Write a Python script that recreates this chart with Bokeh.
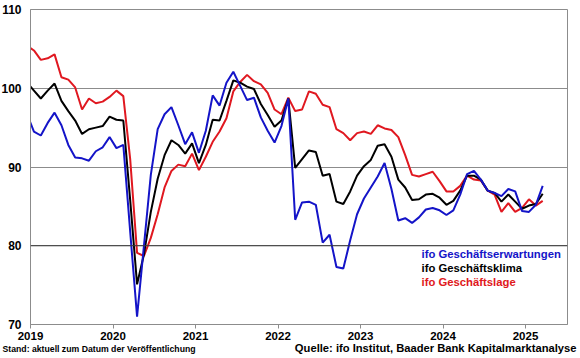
from bokeh.plotting import figure
from bokeh.models import FixedTicker, Label, Span, ColumnDataSource, Range1d
from bokeh.embed import file_html
from bokeh.resources import INLINE

# monthly observations (Dec 2018 .. Mar 2025)
months = ["2018-12"] + [f"{y}-{m:02d}" for y in range(2019, 2025) for m in range(1, 13)] + ["2025-01", "2025-02", "2025-03"]

erwartungen = [96.7,
    94.5, 94.0, 95.6, 96.9, 95.3, 92.8, 91.2, 91.1, 90.8, 92.0, 92.5, 93.8,
    92.4, 92.8, 81.8, 71.0, 80.0, 89.0, 94.8, 96.7, 97.6, 95.3, 92.9, 94.4,
    91.8, 94.6, 99.1, 97.8, 100.7, 102.1, 100.3, 98.5, 98.8, 96.3, 94.6, 93.1,
    95.2, 98.7, 83.3, 85.5, 85.6, 85.2, 80.4, 81.4, 77.3, 77.1, 80.7, 84.0,
    86.0, 87.4, 88.8, 90.5, 87.2, 83.2, 83.5, 82.9, 83.6, 84.6, 84.8, 84.5,
    83.9, 84.5, 86.5, 89.1, 89.5, 88.4, 87.0, 86.7, 86.3, 87.2, 86.9, 84.4,
    84.3, 85.2, 87.6]

klima = [100.7,
    99.7, 98.7, 99.7, 100.6, 98.4, 97.1, 95.9, 94.2, 94.8, 95.0, 95.2, 96.4,
    96.0, 95.9, 85.8, 75.1, 78.9, 84.3, 88.5, 91.5, 93.4, 92.8, 91.7, 93.0,
    90.5, 92.8, 96.0, 95.9, 98.4, 101.0, 100.7, 100.2, 99.9, 98.0, 96.6, 95.1,
    95.9, 98.7, 89.9, 91.0, 92.1, 91.9, 88.9, 89.1, 85.6, 85.3, 86.9, 88.9,
    90.1, 90.9, 92.7, 92.9, 91.3, 88.4, 87.4, 85.8, 85.9, 86.5, 86.6, 86.1,
    85.2, 85.7, 87.0, 88.9, 88.9, 88.4, 87.0, 86.7, 85.6, 86.5, 85.6, 84.7,
    85.1, 85.3, 86.6]

lage = [105.4,
    104.8, 103.6, 103.8, 104.3, 101.4, 101.1, 100.1, 97.3, 98.7, 98.1, 98.3, 98.9,
    99.7, 99.0, 91.0, 79.1, 78.7, 81.0, 84.0, 87.4, 89.5, 90.3, 90.1, 91.7,
    89.6, 91.3, 93.2, 94.5, 96.2, 99.6, 100.8, 101.7, 100.9, 100.5, 99.4, 97.3,
    96.7, 98.8, 97.1, 97.3, 99.6, 99.3, 97.9, 97.6, 94.8, 94.3, 93.4, 94.3,
    94.5, 94.2, 95.3, 94.9, 94.7, 93.8, 91.5, 89.0, 88.8, 89.1, 89.4, 88.2,
    86.9, 86.9, 87.6, 88.9, 88.4, 88.3, 87.0, 86.5, 84.3, 85.4, 84.3, 84.8,
    85.9, 85.1, 85.7]

year_ticks = [2019, 2020, 2021, 2022, 2023, 2024, 2025]
value_ticks = [70, 80, 90, 100, 110]
series_names = ["ifo Geschäftserwartungen", "ifo Geschäftsklima", "ifo Geschäftslage"]
footer_left = "Stand: aktuell zum Datum der Veröffentlichung"
footer_right = "Quelle: ifo Institut, Baader Bank Kapitalmarktanalyse"

BLUE = "#1414c8"
BLACK = "#000000"
RED = "#e01820"
GRID = "#8c8c8c"
FONT = "Liberation Sans"

x = [int(s[:4]) + (int(s[5:]) - 0.5) / 12 for s in months]
src = ColumnDataSource(dict(x=x, erw=erwartungen, klima=klima, lage=lage))

p = figure(width=590, height=354, frame_width=537, frame_height=315,
           x_range=Range1d(2019, 2025.509), y_range=Range1d(70, 110),
           output_backend="svg", toolbar_location=None,
           min_border_left=40, min_border_right=13, min_border_top=9, min_border_bottom=30)
p.styles = {"margin-left": "-10px"}
p.background_fill_color = "white"
p.border_fill_color = "white"
p.outline_line_color = GRID
p.outline_line_width = 1

p.xgrid.visible = False
p.ygrid.ticker = FixedTicker(ticks=value_ticks)
p.ygrid.grid_line_color = GRID
p.ygrid.grid_line_width = 1.2

p.add_layout(Span(location=value_ticks[1], dimension="width", line_color="#3a3a3a", line_width=1.2))

p.yaxis.ticker = FixedTicker(ticks=value_ticks)
p.yaxis.axis_line_color = GRID
p.yaxis.major_tick_out = 0
p.yaxis.major_tick_in = 0
p.yaxis.minor_tick_line_color = None
p.yaxis.major_label_standoff = 9
p.yaxis.major_label_text_font = FONT
p.yaxis.major_label_text_font_style = "bold"
p.yaxis.major_label_text_font_size = "12px"
p.yaxis.major_label_text_color = "#000000"

p.xaxis.ticker = FixedTicker(ticks=year_ticks)
p.xaxis.axis_line_color = GRID
p.xaxis.major_tick_line_color = GRID
p.xaxis.major_tick_out = 4
p.xaxis.major_tick_in = 0
p.xaxis.minor_tick_line_color = None
p.xaxis.major_label_standoff = 3
p.xaxis.major_label_text_font = FONT
p.xaxis.major_label_text_font_style = "bold"
p.xaxis.major_label_text_font_size = "11.5px"
p.xaxis.major_label_text_color = "#000000"

p.line("x", "lage", source=src, line_color=RED, line_width=2)
p.line("x", "klima", source=src, line_color=BLACK, line_width=2)
p.line("x", "erw", source=src, line_color=BLUE, line_width=2)

# legend texts (screen units, relative to frame bottom-left)
for name, col, yy in zip(series_names, [BLUE, BLACK, RED], [71, 57, 43]):
    p.add_layout(Label(x=391, y=yy, x_units="screen", y_units="screen", text=name,
                       text_color=col, text_font=FONT, text_font_style="bold",
                       text_font_size="11.3px", text_baseline="middle", text_align="left"))

# footer strip (separate root): its frame fills the strip; data coords equal page pixels
f = figure(width=580, height=14, x_range=Range1d(0, 580), y_range=Range1d(358, 344),
           output_backend="svg", toolbar_location=None, min_border=0)
f.styles = {"margin-top": "-14px"}
f.axis.visible = False
f.grid.visible = False
f.outline_line_color = None
f.background_fill_alpha = 0
f.border_fill_alpha = 0
f.add_layout(Label(x=2, y=352.3, text=footer_left,
                   text_font=FONT, text_font_style="bold", text_font_size="8.7px",
                   text_baseline="alphabetic", text_align="left", text_color="#000000"))
f.add_layout(Label(x=576, y=351.6, text=footer_right,
                   text_font=FONT, text_font_style="bold", text_font_size="11.2px",
                   text_baseline="alphabetic", text_align="right", text_color="#000000"))

open("out.html", "w").write(file_html([p, f], INLINE))
